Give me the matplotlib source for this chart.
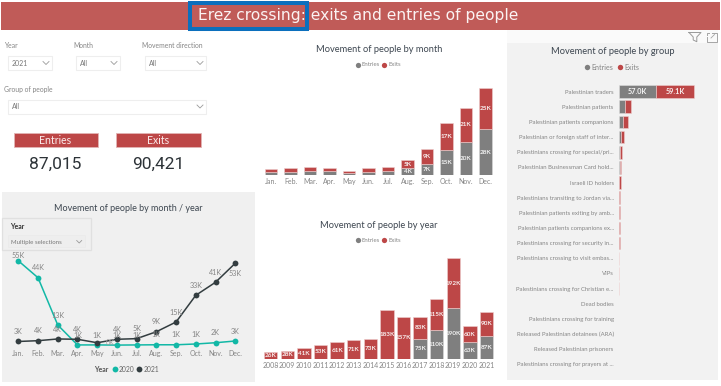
import matplotlib
matplotlib.use("Agg")
import matplotlib.pyplot as plt
from matplotlib.patches import Rectangle

W, H = 721, 386
FONT = "Lato"
plt.rcParams["font.family"] = [FONT, "DejaVu Sans"]

MONTHS = ["Jan.", "Feb.", "Mar.", "Apr.", "May", "Jun.", "Jul.", "Aug.", "Sep.", "Oct.", "Nov.", "Dec."]

# Movement by month (thousands)
month_entries = [1.6, 1.9, 2.4, 2.3, 1.1, 2.0, 2.5, 4, 7, 15, 20, 28]
month_exits = [1.8, 2.1, 2.3, 2.2, 1.1, 2.3, 2.6, 5, 9, 17, 21, 25]
month_entry_labels = ["", "", "", "", "", "", "", "4K", "7K", "15K", "20K", "28K"]
month_exit_labels = ["", "", "", "", "", "", "", "5K", "9K", "17K", "21K", "25K"]

# Movement by year (thousands)
YEARS = ["2008", "2009", "2010", "2011", "2012", "2013", "2014", "2015", "2016", "2017", "2018", "2019", "2020", "2021"]
year_entries = [0, 0, 0, 0, 0, 0, 0, 0, 0, 75, 110, 190, 63, 87]
year_exits = [26, 28, 41, 53, 61, 71, 73, 183, 157, 83, 115, 192, 60, 90]

# Monthly totals by year (thousands)
series_2020 = [54.6, 43.8, 13.7, 1, 1, 0.9, 1, 1.1, 1.1, 1.6, 2.4, 3.5]
series_2021 = [3.2, 3.7, 4.8, 4.6, 2.4, 4.6, 5, 9.4, 15.6, 32.6, 40.9, 53]
labels_2020 = ["55K", "44K", "13K", "1K", "", "1K", "1K", "1K", "1K", "1K", "2K", "3K"]
labels_2021 = ["3K", "4K", "4K", "4K", "1K", "4K", "5K", "9K", "15K", "33K", "41K", "53K"]

# Movement by group (thousands)
GROUPS = ["Palestinian traders", "Palestinian patients", "Palestinian patients companions",
          "Palestinian or foreign staff of inter...", "Palestinians crossing for special/pri...",
          "Palestinian Businessman Card hold...", "Israeli ID holders", "Palestinians transiting to Jordan via...",
          "Palestinian patients exiting by amb...", "Palestinian patients companions ex...",
          "Palestinians crossing for security in...", "Palestinians crossing to visit embas...", "VIPs",
          "Palestinians crossing for Christian e...", "Dead bodies", "Palestinians crossing for training",
          "Released Palestinian detainees (ARA)", "Released Palestinian prisoners",
          "Palestinians crossing for prayers at ..."]
group_entries = [57.0, 9.2, 6.7, 4.0, 2.4, 1.4, 1.2, 0.3, 0.1, 0.1, 0.1, 0, 0, 0, 0, 0, 0, 0, 0]
group_exits = [59.1, 9.3, 7.7, 4.2, 3.4, 2.4, 1.8, 1.4, 1.6, 1.5, 1.4, 0.3, 0.3, 0.2, 0, 0, 0, 0, 0]

KPI_ENTRIES = "87,015"
KPI_EXITS = "90,421"

GREY = "#7f7f7f"
RED = "#bd4747"
TEAL = "#12b8a6"
DARK = "#333d40"
TXT = "#858585"
TITLE = "#3d4650"

fig = plt.figure(figsize=(W / 100, H / 100), dpi=100, facecolor="white")


def px_axes(x0, y0, x1, y1, z=1):
    return fig.add_axes([x0 / W, 1 - y1 / H, (x1 - x0) / W, (y1 - y0) / H], zorder=z)


bg = fig.add_axes([0, 0, 1, 1], zorder=0)
bg.set_xlim(0, W)
bg.set_ylim(H, 0)
bg.axis("off")

top = fig.add_axes([0, 0, 1, 1], zorder=3)
top.set_xlim(0, W)
top.set_ylim(H, 0)
top.axis("off")


def rect(x0, y0, x1, y1, ax=bg, **kw):
    ax.add_patch(Rectangle((x0, y0), x1 - x0, y1 - y0, **kw))


rect(1, 2, 720, 29.5, fc="#c05b58", ec="none")
rect(189.8, 3, 307, 28.6, fc="none", ec="#0b6fbd", lw=2.9, zorder=5)
bg.text(358, 15.5, "Erez crossing: exits and entries of people", color="#fbf3f3", fontsize=11.2,
        family="DejaVu Sans", ha="center", va="center", zorder=6)
rect(2, 192, 255, 381.5, fc="#f0f0f0", ec="none")
rect(507, 43, 718, 380, fc="#f2f2f2", ec="none")
rect(507, 30, 718, 43, fc="#fafafa", ec="none")


def slicer(x0, x1, y_label, label, value):
    bg.text(x0 - 3, y_label, label, fontsize=4.9, color=TXT, va="center")
    yb = y_label + 10
    rect(x0, yb, x1, yb + 14, fc="white", ec="#eeeeee", lw=0.8)
    bg.text(x0 + 4, yb + 7, value, fontsize=5, color="#777777", va="center")
    bg.plot([x1 - 9, x1 - 6, x1 - 3], [yb + 5.5, yb + 8.5, yb + 5.5], color="#999999", lw=0.6)


slicer(7.5, 52, 46, "Year", "2021")
slicer(76, 120, 46, "Month", "All")
slicer(144.5, 206, 46, "Movement direction", "All")
slicer(7.5, 206, 89.5, "Group of people", "All")

rect(13.5, 133, 98, 146.5, fc=RED, ec="#e2b5b5", lw=0.6)
rect(116, 133, 200.5, 146.5, fc=RED, ec="#e2b5b5", lw=0.6)
bg.text(55.5, 140, "Entries", color="#fbecec", fontsize=7.6, ha="center", va="center")
bg.text(158, 140, "Exits", color="#fbecec", fontsize=7.6, ha="center", va="center")
bg.text(55.5, 164, KPI_ENTRIES, color="#2d3338", fontsize=12.5, family="Roboto", ha="center", va="center")
bg.text(158, 164, KPI_EXITS, color="#2d3338", fontsize=12.5, family="Roboto", ha="center", va="center")

# filter and focus icons
bg.plot([689, 701, 696.8, 696.8, 693.2, 693.2, 689], [32.5, 32.5, 37, 41.7, 40, 37, 32.5], color="#9a9a9a", lw=0.7)
bg.plot([706.5, 706.5, 716.5, 716.5, 712], [36.5, 41.7, 41.7, 33, 33], color="#a5a5a5", lw=0.7)
bg.plot([706.5, 706.5, 709], [35, 33, 33], color="#a5a5a5", lw=0.7)
bg.plot([711, 714.5], [38, 34.5], color="#a5a5a5", lw=0.6)


def legend_dots(cx, y):
    bg.plot([cx - 20.3], [y], "o", ms=3.8, color=GREY, mew=0)
    bg.text(cx - 16.5, y, "Entries", fontsize=4.3, color=TXT, va="center")
    bg.plot([cx + 6.3], [y], "o", ms=3.8, color=RED, mew=0)
    bg.text(cx + 10.5, y, "Exits", fontsize=4.3, color=TXT, va="center")


def clean(ax):
    ax.patch.set_alpha(0)
    for s in ax.spines.values():
        s.set_visible(False)


# ---- month bars
bg.text(379, 49, "Movement of people by month", fontsize=6.65, color=TITLE, ha="center", va="center")
legend_dots(378, 65)
SP = 19.5
ax = px_axes(261, 60, 497, 175)
ax.set_xlim(-(271 - 261) / SP, (497 - 271) / SP)
ax.set_ylim(0, 115 / 1.64)
xs = list(range(12))
ax.bar(xs, month_entries, width=0.63, color=GREY, edgecolor="#d9d9d9", linewidth=0.4)
ax.bar(xs, month_exits, bottom=month_entries, width=0.63, color=RED, edgecolor="#eecfcf", linewidth=0.4)
for i in xs:
    ax.text(i, month_entries[i] / 2, month_entry_labels[i], color="#f2f2f2", fontsize=4.6, weight="bold",
            ha="center", va="center")
    ax.text(i, month_entries[i] + month_exits[i] / 2, month_exit_labels[i], color="#f8eeee", fontsize=4.6,
            weight="bold", ha="center", va="center")
ax.set_xticks(xs, MONTHS)
ax.set_yticks([])
ax.tick_params(axis="x", length=0, labelsize=5, labelcolor=TXT, pad=2.5)
clean(ax)

# ---- year bars
bg.text(378.7, 225, "Movement of people by year", fontsize=6.65, color=TITLE, ha="center", va="center")
legend_dots(378, 240.3)
SP = 16.6
ax = px_axes(261, 250, 497, 358.5)
ax.set_xlim(-(270.7 - 261) / SP, (497 - 270.7) / SP)
ax.set_ylim(0, 108.5 / 0.2633)
xs = list(range(14))
ax.bar(xs, year_entries, width=0.8, color=GREY, edgecolor="#dddddd", linewidth=0.4)
ax.bar(xs, year_exits, bottom=year_entries, width=0.8, color=RED, edgecolor="#eecfcf", linewidth=0.4)
for i in xs:
    if year_entries[i]:
        ax.text(i, year_entries[i] / 2, f"{year_entries[i]}K", color="#f2f2f2", fontsize=4.6, weight="bold",
                ha="center", va="center")
    ax.text(i, year_entries[i] + year_exits[i] / 2, f"{year_exits[i]}K", color="#f8eeee", fontsize=4.6, weight="bold",
            ha="center", va="center")
ax.set_xticks(xs, YEARS)
ax.set_yticks([])
ax.tick_params(axis="x", length=0, labelsize=5, labelcolor=TXT, pad=2.5)
clean(ax)

# ---- line chart
bg.text(128, 208.5, "Movement of people by month / year", fontsize=6.5, color=TITLE, ha="center", va="center")
SP = 19.72
ax = px_axes(5, 250, 250, 346.5, z=2)
ax.set_xlim(-(18.3 - 5) / SP, (250 - 18.3) / SP)
ax.set_ylim(0, 96.5 / 1.57)
xs = list(range(12))
ax.plot(xs, series_2020, "-o", color=TEAL, lw=1.1, ms=4.2, mew=0, clip_on=False)
ax.plot(xs, series_2021, "-o", color=DARK, lw=1.1, ms=4.2, mew=0, clip_on=False)
for i in xs:
    if labels_2020[i]:
        dy = 1.6 if i == 0 else 4.6
        ax.annotate(labels_2020[i], (i, series_2020[i]), xytext=(0, dy), textcoords="offset points",
                    fontsize=5.2, color=TXT, ha="center", va="bottom", annotation_clip=False)
    dy = -10 if i == 11 else (2.6 if i == 4 else 4.6)
    ax.annotate(labels_2021[i], (i, series_2021[i]), xytext=(0, dy), textcoords="offset points",
                fontsize=5.2, color=TXT, ha="center", va="bottom", annotation_clip=False)
ax.annotate("0K", (4, series_2020[4]), xytext=(9.4, 1.4), textcoords="offset points", fontsize=5.2, color="#a0a0a0",
            ha="center", va="center", annotation_clip=False)
ax.set_xticks(xs, MONTHS)
ax.set_yticks([])
ax.tick_params(axis="x", length=0, labelsize=5, labelcolor=TXT, pad=2.4)
clean(ax)

bg.text(94.5, 369, "Year", fontsize=5, color="#555555", ha="left", va="center", weight="bold")
bg.plot([114.7], [369], "o", ms=4.2, color=TEAL, mew=0)
bg.text(119, 369, "2020", fontsize=4.9, color="#666666", va="center")
bg.plot([139], [369], "o", ms=4.2, color=DARK, mew=0)
bg.text(143.3, 369, "2021", fontsize=4.9, color="#666666", va="center")

# year slicer over the line chart
rect(2, 218, 91, 250.2, ax=top, fc="#f0f0f0", ec="#e0e0e0", lw=0.9)
top.text(10, 226.8, "Year", fontsize=5, color="#333333", weight="bold", va="center")
rect(8, 235, 85, 247, ax=top, fc="#eeeeee", ec="#ebebeb", lw=0.5)
top.text(11.3, 242.3, "Multiple selections", fontsize=4.4, color="#777777", va="center")
top.plot([76.7, 79.2, 81.7], [240.5, 243, 240.5], color="#999999", lw=0.6)

# ---- group bars
bg.text(612.5, 51, "Movement of people by group", fontsize=6.65, color=TITLE, ha="center", va="center")
bg.plot([587.3], [67.3], "o", ms=3.9, color=GREY, mew=0)
bg.text(591.5, 67.3, "Entries", fontsize=5.1, color=TXT, va="center")
bg.plot([619.7], [67.3], "o", ms=3.9, color=RED, mew=0)
bg.text(624, 67.3, "Exits", fontsize=5.1, color=TXT, va="center")

ROW = 15.14
ax = px_axes(618.7, 80, 712, 375)
ax.set_xlim(0, (712 - 618.7) / 0.652)
ax.set_ylim((375 - 91.7) / ROW, -(91.7 - 80) / ROW)
ys = list(range(len(GROUPS)))
ax.barh(ys, group_entries, height=0.84, color=GREY,
        edgecolor=["#dddddd" if v else "none" for v in group_entries], linewidth=0.4)
ax.barh(ys, group_exits, left=group_entries, height=0.84, color=RED,
        edgecolor=["#eecfcf" if v else "none" for v in group_exits], linewidth=0.4)
ax.text(group_entries[0] / 2, 0, f"{group_entries[0]:.1f}K", color="#f4f4f4", fontsize=5.2, weight="bold",
        ha="center", va="center")
ax.text(group_entries[0] + group_exits[0] / 2, 0, f"{group_exits[0]:.1f}K", color="#f8eeee", fontsize=5.2, weight="bold",
        ha="center", va="center")
ax.set_yticks(ys, GROUPS)
ax.set_xticks([])
ax.tick_params(axis="y", length=0, labelsize=4.35, labelcolor=TXT, pad=3.6)
clean(ax)

fig.savefig("out.png", dpi=100, facecolor="white")
